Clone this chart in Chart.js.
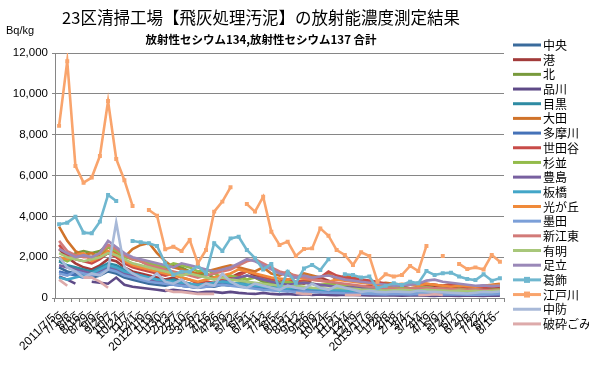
<!DOCTYPE html>
<html><head><meta charset="utf-8">
<script src="https://cdn.jsdelivr.net/npm/chart.js@4/dist/chart.umd.min.js"></script>
<style>html,body{margin:0;padding:0;background:#fff}#wrap{width:589px;height:369px}</style>
</head><body><div id="wrap"><canvas id="c" width="589" height="369"></canvas></div>
<script>
const TITLE = "23区清掃工場【飛灰処理汚泥】の放射能濃度測定結果";
const SUBTITLE = "放射性セシウム134,放射性セシウム137 合計";
const UNIT = "Bq/kg";
const categories = ["2011/7/5~","7/19~","8/8~","8/16~","8/29~","9/9~","9/26~","10/7~","10/24~","11/7~","12/1~",
"2012/1/9~","1/19~","1/30~","2/13~","2/27~","3/10~","3/26~","4/2~","4/16~","4/26~","5/9~","5/22~","6/5~","6/21~","7/1~","7/23~","8/5~","8/15~","8/31~","9/12~","9/26~","10/9~","10/24~","11/5~","11/21~","12/4~","12/19~",
"2013/1/7~","1/18~","1/28~","2/8~","2/18~","3/4~","3/21~","4/4~","4/19~","5/9~","5/24~","6/7~","6/20~","7/8~","7/22~","8/2~","8/16~"];
const yTicks = [0,2000,4000,6000,8000,10000,12000];
const N = null;
const seriesNames = ["中央","港","北","品川","目黒","大田","多摩川","世田谷","杉並","豊島","板橋","光が丘","墨田","新江東","有明","足立","葛飾","江戸川","中防","破砕ごみ"];
const chuo = [1500,1300,1200,1100,1000,1100,1300,1200,1000,900,800, 700,650,600,700,600,550,500,600,550,650, 600,700,650,550,500,450,400,350,400,380,350,300,350,300,320,280,300,260,250, 230,250,220,200,240,220,260,230,200,220,210,190,230,200,250];
const minato = [2400,2000,1700,1500,1400,1600,1900,1800,1500,1300,1200, 1100,1000,900,1000,800,700,550,650,600,900, 1000,1200,1300,1100,900,800,700,800,750,700,900,1000,850,700,650,600,550,600,500, 450,500,550,480,520,600,550,500,480,520,450,420,480,450,500];
const kita = [1800,1900,2200,2300,2200,2300,2600,2400,2100,1900,1800, 1600,1500,1400,1600,1500,1300,1100,1200,1000,1100, 1000,900,1100,1000,800,700,750,700,650,800,700,600,650,700,600,550,500,450,500, 600,550,500,450,500,550,480,450,400,420,380,400,350,380,400];
const shinagawa = [1050,900,700,N,800,750,700,1000,650,550,500, 450,400,350,400,350,300,250,300,300,250, 300,250,220,200,250,200,180,200,160,180,150,170,150,140,160,150,140,130,120, 130,120,110,130,120,110,100,120,110,100,120,110,100,120,110];
const meguro = [1800,1600,1500,1400,1300,1500,1700,1600,1400,1200,1100, 1000,900,800,900,800,700,600,700,650,800, 750,700,800,700,600,550,500,450,500,480,450,400,420,380,350,400,380,350,300, 320,300,280,300,280,260,300,280,250,270,240,260,230,250,240];
const ota = [3500,2800,2300,2100,2200,2000,2500,2200,2000,2400,2600, 2700,2200,1800,1500,1400,1300,1200,1300,1400,1500, 1600,1500,1400,1300,1500,1200,1100,1300,1000,1200,1100,1000,1200,900,1100,1000,900,800,700, 750,700,650,700,750,700,650,600,700,650,600,550,600,650,700];
const tamagawa = [1300,1200,1100,1000,1100,1300,1500,1400,1200,1000,900, 850,800,700,650,600,550,500,550,600,700, 650,600,550,500,450,400,380,350,400,380,350,330,300,320,300,280,260,250,240, 230,220,210,230,220,200,240,220,200,210,190,220,200,210,230];
const setagaya = [2600,2100,1900,1800,1700,1900,2200,2000,1700,1500,1400, 1300,1200,1100,1200,1000,900,700,800,750,900, 1000,1100,1300,1200,1000,900,800,900,800,850,900,1000,1300,1100,1000,950,900,850,800, 700,650,600,650,700,680,650,600,620,580,550,520,560,540,600];
const suginami = [2000,1800,2000,2100,2000,2200,2500,2300,2000,1900,1800, 1700,1600,1500,1700,1600,1500,1300,1400,1200,1000, 1100,1000,900,1000,900,800,750,800,700,750,700,650,700,600,650,600,550,500,480, 450,500,480,450,500,520,480,450,420,450,400,420,380,400,420];
const toshima = [1600,1500,1400,1300,1200,1300,1600,1400,1200,1100,1000, 900,850,800,750,700,650,600,650,700,800, 900,1000,1100,1000,900,800,700,650,700,750,700,650,600,550,500,520,480,450,400, 380,400,420,380,400,450,420,400,380,360,340,380,360,340,380];
const itabashi = [1000,900,1000,1100,1200,1400,1600,1500,1300,1200,1100, 1000,900,850,800,750,700,650,700,750,800, 750,700,650,600,550,500,480,450,500,480,450,420,400,380,360,340,320,300,280, 270,260,250,270,260,280,260,240,230,250,220,240,230,220,240];
const hikarigaoka = [2000,1900,2100,2200,1800,2000,2300,2100,1800,1600,1500, 1400,1300,1200,1100,1000,900,800,900,1000,1100, 1200,1400,1300,1200,1100,1000,950,900,1000,950,900,850,800,900,850,800,750,700,650, 600,650,700,650,600,700,650,600,550,600,580,550,600,620,650];
const sumida = [1200,1100,1300,1200,1100,1200,1400,1300,1100,1000,900, 800,750,700,650,600,550,500,550,600,650, 600,550,500,450,400,380,350,330,300,320,300,280,260,250,230,220,210,200,190, 180,200,190,180,200,190,180,170,180,170,160,170,160,170,180];
const shinkoto = [2800,2300,2100,2000,2000,2200,2600,2400,2100,1900,1800, 1600,1500,1400,1300,1200,1100,1000,1100,1200,1300, 1400,1600,1800,1900,1700,1500,1300,1200,1100,1000,900,850,800,750,700,650,600,550,500, 480,460,440,460,480,500,480,460,440,420,400,420,400,380,400];
const ariake = [2200,2000,1900,1800,1900,2000,2200,2100,1900,1700,1600, 1500,1400,1300,1200,1100,1200,1100,1000,900,1000, 900,850,800,750,700,650,600,550,600,550,500,480,450,500,480,450,420,400,380, 360,380,400,380,360,400,380,360,340,360,330,350,320,340,360];
const adachi = [2400,2200,2000,2100,2000,2200,2800,2500,2200,2000,1900, 1800,1700,1600,1500,1700,1600,1500,1400,1300,1400, 1500,1700,1900,1800,1600,1400,1200,1100,1000,1100,1000,1050,1100,1000,900,850,800,750,700, 650,600,620,650,700,850,900,800,750,700,650,600,620,580,600];
const katsushika = [3610,3690,3980,3200,3170,3740,5050,4750,N,2790,2730, 2680,2550,1700,1130,1290,1290,1570,1200,2680,2300, 2920,3000,2350,1950,1400,1670,390,1290,720,1450,1620,1370,1900,N,1160,1130,1000,1050,480, 600,720,640,800,720,1320,1130,1210,1240,1050,930,880,1160,850,970];
const edogawa = [8430,11600,6470,5650,5900,6960,9650,6810,5770,4510,N, 4310,4030,2390,2510,2300,2840,1700,2350,4230,4720, 5420,N,4600,4230,4960,3250,2600,2760,2060,2400,2430,3410,3050,2350,2110,1620,2240,2060,800, 1160,1050,1130,1570,1320,2550,N,2060,N,1670,1420,1500,1400,2110,1780];
const chubo = [2000,1500,1300,1000,1200,1100,1400,3700,1500,1200,1000, 900,1200,800,700,900,600,500,700,600,1200, 800,600,500,700,600,500,400,600,500,450,700,500,400,600,500,400,300,350,300, 280,320,300,280,350,320,300,280,260,240,220,260,300,280,320];
const hasai = [900,600,N,1000,1000,800,500,N,N,N,N, N,N,400,300,300,250,200,200,200,N, N,N,N,N,N,N,N,N,250,200,180,N,N,N,150,150,150,N,N, N,N,N,N,150,150,180,150,N,N,N,N,N,N,N];
const seriesValues = [chuo,minato,kita,shinagawa,meguro,ota,tamagawa,setagaya,suginami,toshima,itabashi,hikarigaoka,sumida,shinkoto,ariake,adachi,katsushika,edogawa,chubo,hasai];
const seriesColors = ["#3A6B9C","#A23B3A","#789A3C","#5E4A87","#2E8BA3","#D0732A","#4572B8","#C84B48","#93BB4A","#7860A0","#43A6C8","#F08A3A","#7B9FD8","#D27A78","#A8C77A","#9A88B8","#6FB7CF","#F9A46C","#A8B9D8","#DDAAAA"];
const markerSeries = ["葛飾","江戸川"];

const CJK = '"Noto Sans CJK JP", "Noto Sans", sans-serif';
const datasets = seriesNames.map((name,i)=>({
  label:name, data:seriesValues[i], borderColor:seriesColors[i], backgroundColor:seriesColors[i],
  borderWidth:2.6, tension:0, spanGaps:false, order:seriesNames.length-i,
  pointStyle:'rect', pointRadius: markerSeries.includes(name)?2.8:0, pointHoverRadius:0,
  pointBorderWidth:0
}));

const overlay = {
  id:'overlay',
  afterDraw(chart){
    const ctx = chart.ctx; ctx.save();
    ctx.fillStyle='#000'; ctx.textAlign='center'; ctx.textBaseline='middle';
    ctx.font='16.5px '+CJK; ctx.fillText(TITLE,261,18);
    ctx.font='bold 11.5px '+CJK; ctx.fillText(SUBTITLE,261,40);
    ctx.textAlign='left'; ctx.font='11px "Liberation Sans", Arial, sans-serif';
    ctx.fillText(UNIT,6,31);
    const x0=513, x1=541, y0=45, dy=14.68;
    ctx.font='12px '+CJK;
    seriesNames.forEach((name,i)=>{
      const y=y0+i*dy;
      ctx.strokeStyle=seriesColors[i]; ctx.lineWidth=3; ctx.lineCap='butt';
      ctx.beginPath(); ctx.moveTo(x0,y); ctx.lineTo(x1,y); ctx.stroke();
      if(markerSeries.includes(name)){ ctx.fillStyle=seriesColors[i]; ctx.fillRect((x0+x1)/2-3,y-3,6,6); }
      ctx.fillStyle='#000'; ctx.fillText(name,x1+2,y+0.5);
    });
    ctx.restore();
  }
};

new Chart(document.getElementById('c'),{
  type:'line',
  data:{labels:categories, datasets},
  options:{
    responsive:false, animation:false, devicePixelRatio:1,
    layout:{padding:{left:0,right:85,top:53,bottom:0}},
    plugins:{legend:{display:false}, title:{display:false}, tooltip:{enabled:false}},
    scales:{
      x:{
        offset:true,
        grid:{display:true, offset:true, drawOnChartArea:false, drawTicks:true, tickLength:4, color:'#868686'},
        border:{color:'#868686'},
        ticks:{autoSkip:false, minRotation:45, maxRotation:45, color:'#000', padding:4,
          font:{size:12, family:'"Liberation Sans", Arial, sans-serif'}},
        afterFit(s){ s.height=71; }
      },
      y:{
        min:0, max:12000,
        afterBuildTicks(s){ s.ticks = yTicks.map(v=>({value:v})); },
        grid:{color:'#868686', tickLength:3},
        border:{color:'#868686'},
        ticks:{color:'#000', padding:4, font:{size:11.5, family:'"Liberation Sans", Arial, sans-serif'},
          callback:v=>v.toLocaleString('en-US')},
        afterFit(s){ s.width=55; }
      }
    }
  },
  plugins:[overlay]
});
</script></body></html>
